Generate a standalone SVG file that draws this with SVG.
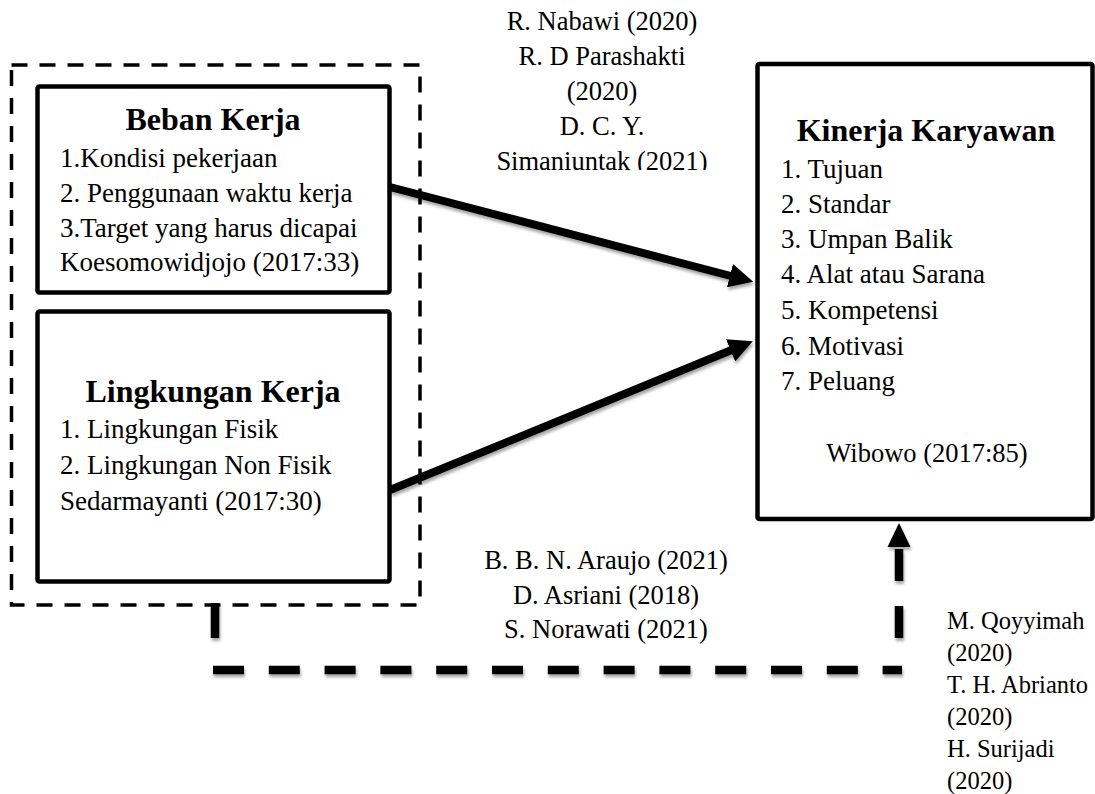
<svg xmlns="http://www.w3.org/2000/svg" width="1095" height="794" viewBox="0 0 1095 794">
<style>
text{font-family:"Liberation Serif","Times New Roman",serif;fill:#000}
.t{font-size:32px;font-weight:bold;text-anchor:middle}
.b{font-size:27px}
.c{font-size:26.5px;text-anchor:middle}
.r{font-size:24.5px}
.box{fill:#fff;stroke:#000;stroke-width:4.5}
.outer{fill:none;stroke:#000;stroke-width:3.5;stroke-dasharray:16 12}
.arr{stroke:#000;stroke-width:8;fill:none}
.dash{stroke:#000;stroke-width:8.5;fill:none}
</style>
<defs>
<filter id="sh" x="-10%" y="-20%" width="130%" height="160%">
<feDropShadow dx="1" dy="3" stdDeviation="1.6" flood-color="#000" flood-opacity="0.35"/>
</filter>
<marker id="ah" markerUnits="userSpaceOnUse" markerWidth="24" markerHeight="24" viewBox="0 0 22 22" refX="1" refY="11" orient="auto">
<path d="M0,0 L22,11 L0,22 z" fill="#000"/>
</marker>
<clipPath id="topclip"><rect x="400" y="0" width="400" height="170"/></clipPath>
</defs>
<rect width="1095" height="794" fill="#fff"/>

<g id="group-outer">
<rect class="outer" x="11.5" y="65" width="408.5" height="540"/>
</g>

<g id="node-beban">
<rect class="box" x="37.5" y="86.5" width="352" height="206" rx="2"/>
<text class="t" x="213" y="130">Beban Kerja</text>
<text class="b" x="60" y="167">1.Kondisi pekerjaan</text>
<text class="b" x="60" y="202">2. Penggunaan waktu kerja</text>
<text class="b" x="60" y="237">3.Target yang harus dicapai</text>
<text class="b" x="60" y="271">Koesomowidjojo (2017:33)</text>
</g>

<g id="node-lingkungan">
<rect class="box" x="37.5" y="311.5" width="352" height="270" rx="2"/>
<text class="t" x="213" y="402">Lingkungan Kerja</text>
<text class="b" x="60" y="438">1. Lingkungan Fisik</text>
<text class="b" x="60" y="474">2. Lingkungan Non Fisik</text>
<text class="b" x="60" y="510">Sedarmayanti (2017:30)</text>
</g>

<g id="node-kinerja">
<rect class="box" x="757.5" y="64" width="335" height="455" rx="2"/>
<text class="t" x="926" y="141">Kinerja Karyawan</text>
<text class="b" x="781" y="178">1. Tujuan</text>
<text class="b" x="781" y="213">2. Standar</text>
<text class="b" x="781" y="248">3. Umpan Balik</text>
<text class="b" x="781" y="283">4. Alat atau Sarana</text>
<text class="b" x="781" y="319">5. Kompetensi</text>
<text class="b" x="781" y="355">6. Motivasi</text>
<text class="b" x="781" y="390">7. Peluang</text>
<text class="c" x="927" y="462">Wibowo (2017:85)</text>
</g>

<g id="connectors">
<g filter="url(#sh)">
<line class="arr" x1="390" y1="187" x2="731" y2="276" marker-end="url(#ah)"/>
<line class="arr" x1="390" y1="490" x2="731.6" y2="350" marker-end="url(#ah)"/>
<line class="dash" x1="215" y1="603" x2="215" y2="638"/>
<line class="dash" x1="213" y1="670" x2="902" y2="670" stroke-dasharray="31 24.8"/>
<line class="dash" x1="899" y1="638" x2="899" y2="549" stroke-dasharray="32 25"/>
<polygon points="899,523 910.5,547 887.5,547" fill="#000"/>
</g>
</g>

<g id="label-top" clip-path="url(#topclip)">
<text class="c" x="602" y="30">R. Nabawi (2020)</text>
<text class="c" x="602" y="65">R. D Parashakti</text>
<text class="c" x="602" y="100">(2020)</text>
<text class="c" x="602" y="135">D. C. Y.</text>
<text class="c" x="602" y="170">Simaniuntak (2021)</text>
</g>

<g id="label-bottom">
<text class="c" x="606" y="569">B. B. N. Araujo (2021)</text>
<text class="c" x="606" y="604">D. Asriani (2018)</text>
<text class="c" x="606" y="638">S. Norawati (2021)</text>
</g>

<g id="label-right">
<text class="r" x="947" y="629">M. Qoyyimah</text>
<text class="r" x="947" y="661">(2020)</text>
<text class="r" x="947" y="693">T. H. Abrianto</text>
<text class="r" x="947" y="725">(2020)</text>
<text class="r" x="947" y="757">H. Surijadi</text>
<text class="r" x="947" y="789">(2020)</text>
</g>
</svg>
